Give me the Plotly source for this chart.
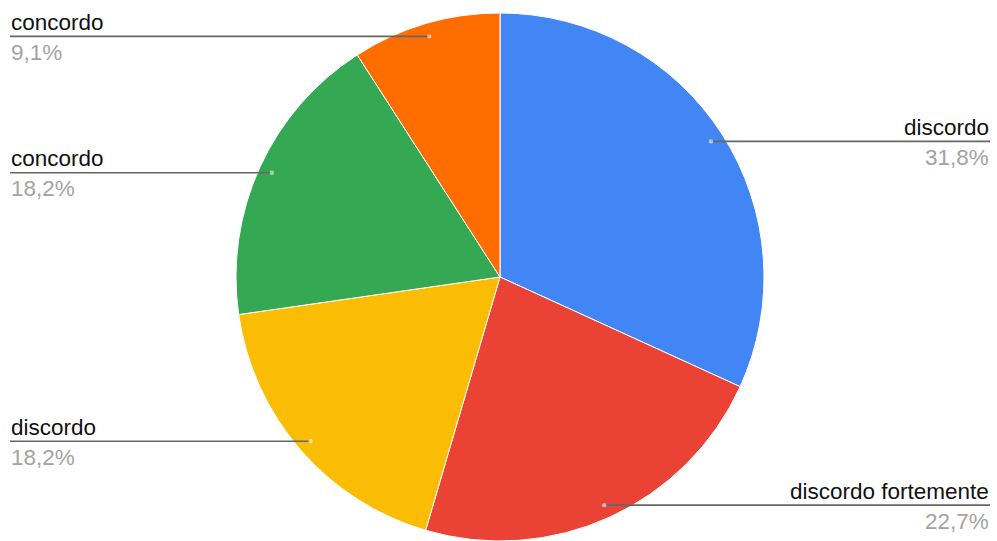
import math
import plotly.graph_objects as go

# Survey answers, clockwise from 12 o'clock
answers = ["discordo", "discordo fortemente", "discordo", "concordo", "concordo"]
counts = [7, 5, 4, 4, 2]
colors = ["#4285F4", "#EA4335", "#FBBC04", "#34A853", "#FF6D01"]
label_side = ["right", "right", "left", "left", "left"]

W, H = 997, 541
CX, CY, R = 500.0, 277.0, 264.0  # pie centre / radius in pixels
DOT_R = 0.95 * R                 # where leader lines start inside each slice

total = sum(counts)
pct_text = [f"{100 * c / total:.1f}".replace(".", ",") + "%" for c in counts]
slice_names = [f"{a} {p}" for a, p in zip(answers, pct_text)]


def px_to_paper(x, y):
    return x / W, 1 - y / H


fig = go.Figure(
    go.Pie(
        labels=slice_names,
        values=counts,
        sort=False,
        direction="clockwise",
        rotation=0,
        marker=dict(colors=colors, line=dict(color="white", width=1)),
        textinfo="none",
        hoverinfo="none",
        showlegend=False,
        domain=dict(x=[(CX - R) / W, (CX + R) / W], y=[0, 1 - (CY - R) / H]),
    )
)

shapes = []
annotations = []
acc = 0.0
for name, cnt, pct, side in zip(answers, counts, pct_text, label_side):
    mid = (acc + cnt / 2) / total * 2 * math.pi
    acc += cnt
    dx = CX + DOT_R * math.sin(mid)
    dy = CY - DOT_R * math.cos(mid)
    end_x = 990 if side == "right" else 10
    x0, y0 = px_to_paper(dx, dy)
    x1, _ = px_to_paper(end_x, dy)
    shapes.append(dict(type="line", xref="paper", yref="paper", x0=x0, y0=y0, x1=x1, y1=y0,
                       line=dict(color="#666666", width=1.6)))
    r = 2.2
    shapes.append(dict(type="circle", xref="paper", yref="paper",
                       x0=(dx - r) / W, x1=(dx + r) / W, y0=1 - (dy + r) / H, y1=1 - (dy - r) / H,
                       fillcolor="rgba(255,255,255,0.55)", line=dict(width=0)))
    anchor = "right" if side == "right" else "left"
    annotations.append(dict(text=name, xref="paper", yref="paper", x=x1, y=1 - (dy - 14) / H,
                            xanchor=anchor, yanchor="middle", showarrow=False, borderpad=0,
                            font=dict(family="Arial, Liberation Sans", size=22.5, color="#111111")))
    annotations.append(dict(text=pct, xref="paper", yref="paper", x=x1, y=1 - (dy + 16) / H,
                            xanchor=anchor, yanchor="middle", showarrow=False, borderpad=0,
                            font=dict(family="Arial, Liberation Sans", size=22.5, color="#a3a3a3")))

fig.update_layout(
    width=W,
    height=H,
    margin=dict(l=0, r=0, t=0, b=0),
    paper_bgcolor="white",
    plot_bgcolor="white",
    shapes=shapes,
    annotations=annotations,
)

fig.write_html("out.html")
